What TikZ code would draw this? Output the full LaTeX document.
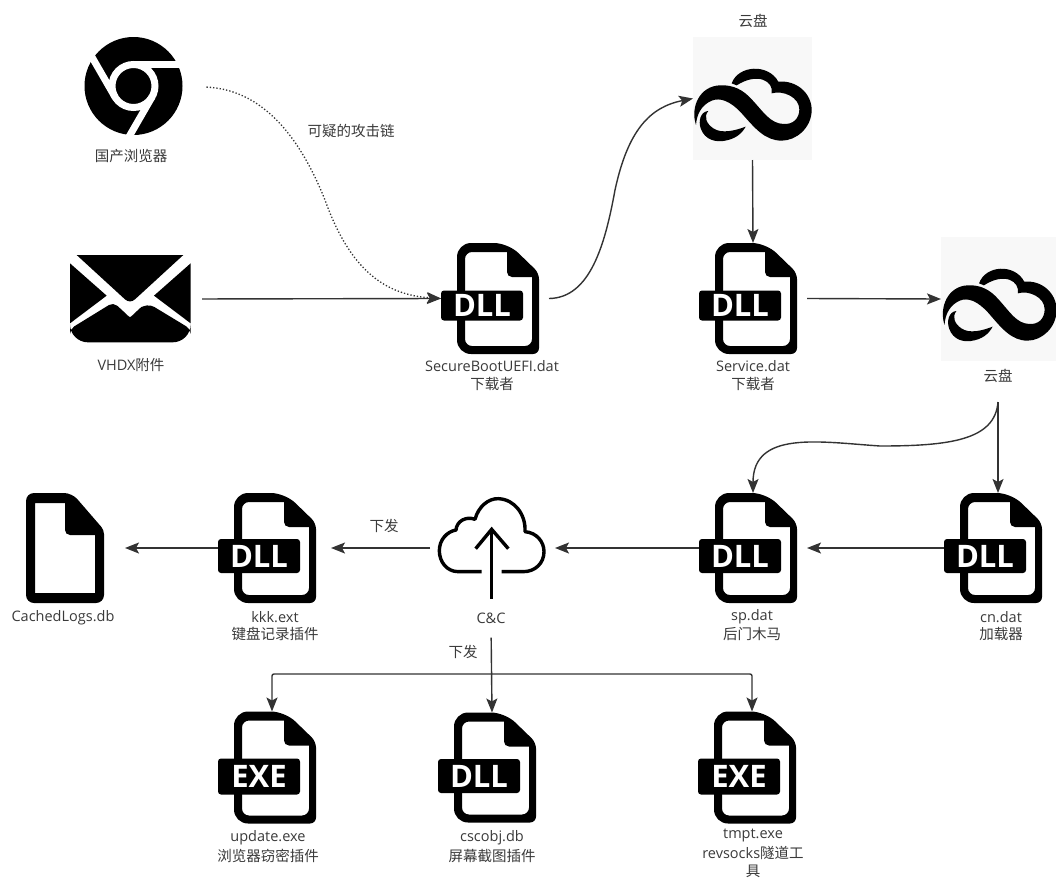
\documentclass[tikz,border=0pt]{standalone}
\usepackage{fontspec}
\setmainfont{Open Sans}
\newfontfamily\cjk{Noto Sans CJK SC}
\usetikzlibrary{arrows.meta}
\definecolor{ink}{HTML}{333333}
\definecolor{lab}{HTML}{3A3A3A}
\definecolor{paperbox}{HTML}{F8F8F8}
\newcommand{\zh}[1]{{\cjk #1}}
\newcommand{\tagfont}{\bfseries\fontsize{31}{31}\selectfont}
\tikzset{
  iconbox/.style={inner sep=0pt,outer sep=0pt,minimum width=108pt,minimum height=#1},
  iconbox/.default=111pt,
  txt/.style={text=lab,inner sep=0pt,font=\fontsize{14.5}{17}\selectfont,align=center},
  conn/.style={draw=ink,line width=1.4pt,-{Stealth[length=14pt,width=11pt,inset=3pt]}},
  plainconn/.style={draw=ink,line width=1.4pt},
  dotconn/.style={draw=ink,line width=1.3pt,dotted,-{Stealth[length=14pt,width=11pt,inset=3pt]}},
  hole/.style={even odd rule,fill=black}
}
% name, x, y, tag text, half height, tag top, tag bottom
\newcommand{\filebox}[7]{%
  \node[iconbox=#5*2pt] (#1) at (#2,#3) {};
  \begin{scope}[shift={(#1.center)}]
    \fill[hole,rounded corners=14pt] (-38,-#5) -- (13,-#5) [rounded corners=6pt] -- (44,{-#5+30}) -- (44,#5) [rounded corners=14pt] -- (-38,#5) -- cycle
      [rounded corners=7pt] (-30,{-#5+9}) [sharp corners] -- (12,{-#5+9}) [rounded corners=5pt] -- (12,{-#5+34}) [sharp corners] -- (37,{-#5+34}) [rounded corners=7pt] -- (37,{#5-8}) -- (-30,{#5-8}) -- cycle;
    \fill[black,rounded corners=3pt] (-54,#6) rectangle (28,#7);
    \node[text=white,inner sep=0pt,font=\tagfont] (#1tag) at (-13,{(#6+#7)/2}) {#4};
  \end{scope}}
\newcommand{\infinitycloud}{%
  \fill[black] (48,345) .. controls (30,290) and (60,228) .. (120,226)
    .. controls (160,224) and (190,240) .. (215,268)
    .. controls (250,305) and (270,340) .. (310,342)
    .. controls (340,344) and (358,325) .. (358,298)
    .. controls (358,262) and (310,240) .. (275,250)
    .. controls (282,215) and (235,185) .. (170,226)
    -- (155,220)
    .. controls (175,165) and (265,160) .. (295,215)
    .. controls (350,210) and (395,250) .. (395,300)
    .. controls (395,352) and (350,392) .. (305,392)
    .. controls (255,392) and (225,355) .. (185,310)
    .. controls (150,272) and (120,262) .. (95,272)
    .. controls (65,285) and (50,312) .. (48,345) -- cycle;
  \fill[black] (85,303) .. controls (60,305) and (55,335) .. (62,355)
    .. controls (75,392) and (110,396) .. (130,393)
    .. controls (165,388) and (185,372) .. (197,350)
    .. controls (165,362) and (125,372) .. (100,355)
    .. controls (80,342) and (70,320) .. (85,303) -- cycle;}
\begin{document}
\begin{tikzpicture}[x=1pt,y=-1pt]
\useasboundingbox (0,0) rectangle (1056,878);
\fill[white] (0,0) rectangle (1056,878);

% chrome icon
\node[circle,fill=black,inner sep=0pt,outer sep=0pt,minimum size=98pt] (chrome) at (133.5,86) {};
\begin{scope}[shift={(chrome.center)}]
  \draw[white,line width=7pt] (0,0) circle (21.5);
  \foreach \a in {0,120,240}{
    \begin{scope}[rotate=\a]
      \draw[white,line width=7pt] (0,-21.5) -- (48,-21.5);
    \end{scope}}
\end{scope}
\node[txt] (chromel) at (131,156) {\zh{国产浏览器}};

% mail icon
\node[inner sep=0pt,outer sep=0pt,minimum width=119pt,minimum height=88pt] (mail) at (130.5,299) {};
\begin{scope}[shift={(60,245)},x=0.3333pt,y=-0.3333pt]
  \fill[black] (50,30) -- (370,30) -- (225,163) to[out=225,in=315] (195,163) -- cycle;
  \fill[black] (30,55) -- (140,152) -- (30,235) -- cycle;
  \fill[black] (392,55) -- (282,152) -- (392,235) -- cycle;
  \fill[black,rounded corners=9pt] (160,172) -- (195,203) to[out=315,in=225] (225,203) -- (260,172) [rounded corners=5pt] -- (392,252) [rounded corners=18pt] -- (392,292) -- (30,292) [rounded corners=5pt] -- (30,252) -- cycle;
\end{scope}
\node[txt] (maill) at (131,365) {VHDX\zh{附件}};

% file icons
\filebox{dll1}{495}{298.5}{DLL}{55.5}{-8}{22}
\filebox{svc}{753}{298.5}{DLL}{55.5}{-8}{22}
\filebox{sp}{753}{548}{DLL}{55}{-9}{25}
\filebox{cn}{998}{548}{DLL}{55}{-9}{25}
\filebox{kkk}{272}{548}{DLL}{55}{-9}{25}
\filebox{upd}{272}{767.5}{EXE}{56}{-9}{27}
\filebox{scr}{492}{767.5}{DLL}{55}{-8.5}{25.5}
\filebox{tun}{752}{767.5}{EXE}{56}{-9}{27}

% blank file
\node[inner sep=0pt,outer sep=0pt,minimum width=78pt,minimum height=110pt] (logs) at (65,548) {};
\begin{scope}[shift={(logs.center)}]
  \fill[hole,rounded corners=8pt] (-39,-55) -- (7,-55) [rounded corners=4pt] -- (39,-18) [rounded corners=8pt] -- (39,55) -- (-39,55) -- cycle
    [sharp corners] (-30,-45) -- (0,-45) [rounded corners=5pt] -- (0,-13) [sharp corners] -- (30,-13) -- (30,45) -- (-30,45) -- cycle;
\end{scope}

% cloud boxes
\node[fill=paperbox,inner sep=0pt,outer sep=0pt,minimum width=119pt,minimum height=123pt] (cloudA) at (752.5,98.5) {};
\begin{scope}[shift={(680,10)},x=0.3333pt,y=-0.3333pt]\infinitycloud\end{scope}
\node[fill=paperbox,inner sep=0pt,outer sep=0pt,minimum width=115pt,minimum height=124pt] (cloudB) at (998.5,299) {};
\begin{scope}[shift={(929,210)},x=0.323pt,y=-0.3333pt]\infinitycloud\end{scope}

% upload cloud
\node[inner sep=0pt,outer sep=0pt,minimum width=125pt,minimum height=90pt] (cc) at (492.5,548) {};
\begin{scope}[shift={(420,490)},x=0.3333pt,y=-0.3333pt]
  \draw[black,line width=3.4pt,line join=round] (185,245) -- (115,245)
    .. controls (80,245) and (58,215) .. (58,182)
    .. controls (58,150) and (80,125) .. (108,120)
    .. controls (110,92) and (140,78) .. (165,88)
    .. controls (175,50) and (205,25) .. (235,26)
    .. controls (285,28) and (318,75) .. (315,125)
    .. controls (350,128) and (372,155) .. (372,185)
    .. controls (372,220) and (345,245) .. (310,245) -- (245,245);
  \draw[black,line width=3.4pt] (215,327) -- (215,118);
  \draw[black,line width=3.4pt,line join=miter] (167,176) -- (215,118) -- (265,176);
\end{scope}

% labels
\node[txt] (susp) at (351,131) {\zh{可疑的攻击链}};
\node[txt] (dll1a) at (492,366) {SecureBootUEFI.dat};
\node[txt] (dll1b) at (492,384) {\zh{下载者}};
\node[txt] (svca) at (753,366) {Service.dat};
\node[txt] (svcb) at (753,384) {\zh{下载者}};
\node[txt] (cloudAl) at (753,21) {\zh{云盘}};
\node[txt] (cloudBl) at (998,376) {\zh{云盘}};
\node[txt] (send1) at (384,526) {\zh{下发}};
\node[txt] (ccl) at (491,618) {C\&C};
\node[txt] (send2) at (463,652) {\zh{下发}};
\node[txt] (logsl) at (63,618) {CachedLogs.db};
\node[txt] (kkka) at (275,617) {kkk.ext};
\node[txt] (kkkb) at (275,634) {\zh{键盘记录插件}};
\node[txt] (spa) at (752,617) {sp.dat};
\node[txt] (spb) at (752,634) {\zh{后门木马}};
\node[txt] (cna) at (1001,617) {cn.dat};
\node[txt] (cnb) at (1001,634) {\zh{加载器}};
\node[txt] (upda) at (268,838) {update.exe};
\node[txt] (updb) at (268,856) {\zh{浏览器窃密插件}};
\node[txt] (scra) at (492,838) {cscobj.db};
\node[txt] (scrb) at (492,856) {\zh{屏幕截图插件}};
\node[txt] (tuna) at (753,835) {tmpt.exe};
\node[txt] (tunb) at (753,853) {revsocks\zh{隧道工}};
\node[txt] (tunc) at (753,871) {\zh{具}};

% connectors
\coordinate (fork) at (998,402);
\coordinate (treej) at (492,674);
\draw[dotconn,shorten <=24pt] (chrome.east) .. controls (270,90) and (305,150) .. (325,200) .. controls (350,270) and (385,295) .. (dll1.west);
\draw[conn,shorten <=12pt] (mail.east) -- (dll1.west);
\draw[conn] (dll1.east) .. controls (590,298) and (605,245) .. (615,190) .. controls (628,130) and (650,107) .. (cloudA.west);
\draw[conn] (cloudA.south) -- (svc.north);
\draw[conn] (svc.east) -- (cloudB.west);
\draw[conn] (fork) .. controls (995,440) and (950,446) .. (880,446) .. controls (820,442) and (753,430) .. (sp.north);
\draw[conn] (fork) -- (cn.north);
\draw[conn] (cn.west) -- (sp.east);
\draw[conn] (sp.west) -- (cc.east);
\draw[conn,shorten >=5pt] (cc.west) -- (kkk.east);
\draw[conn,shorten >=21pt] (kkk.west) -- (logs.east);
\draw[conn,shorten <=14pt] (ccl.south) -- (scr.north);
\draw[conn,rounded corners=2pt] (treej) -| (upd.north);
\draw[conn,rounded corners=2pt] (treej) -| (tun.north);
\end{tikzpicture}
\end{document}
